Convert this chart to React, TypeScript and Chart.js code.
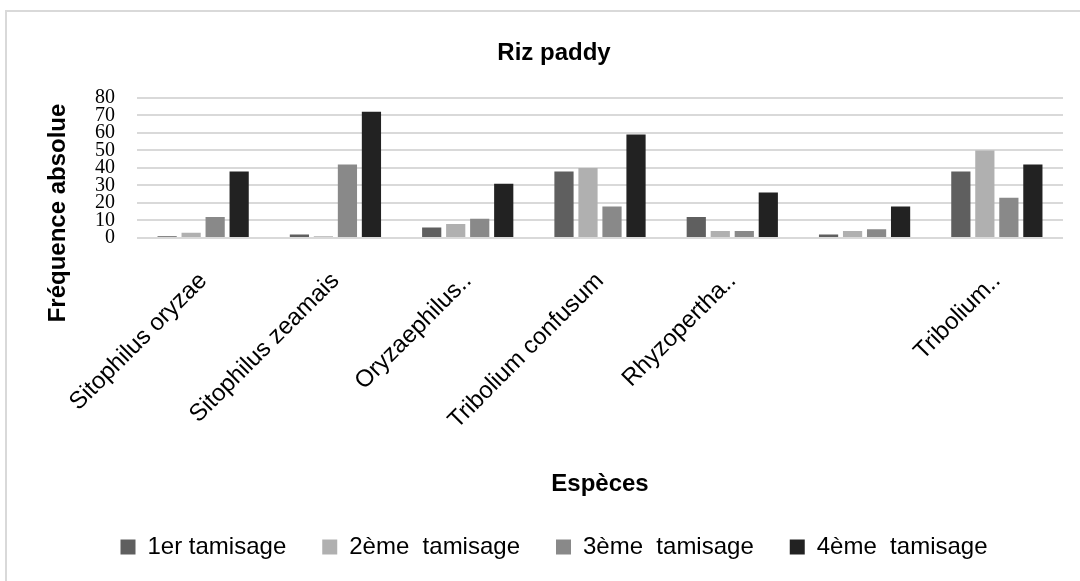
import React, { useEffect, useRef } from "react";
import { Chart, registerables } from "chart.js";

Chart.register(...registerables);

const chartTitle = "Riz paddy";
const yAxisTitle = "Fréquence absolue";
const xAxisTitle = "Espèces";

const categories = [
  "Sitophilus oryzae",
  "Sitophilus zeamais",
  "Oryzaephilus..",
  "Tribolium confusum",
  "Rhyzopertha..",
  "",
  "Tribolium..",
];

const seriesNames = ["1er tamisage", "2ème  tamisage", "3ème  tamisage", "4ème  tamisage"];
const tamisage1 = [1, 2, 6, 38, 12, 2, 38];
const tamisage2 = [3, 1, 8, 40, 4, 4, 50];
const tamisage3 = [12, 42, 11, 18, 4, 5, 23];
const tamisage4 = [38, 72, 31, 59, 26, 18, 42];
const seriesColors = ["#5f5f5f", "#b0b0b0", "#898989", "#222222"];

const yMin = 0;
const yMax = 80;
const yStep = 10;

const SANS = "'Liberation Sans', Arial, sans-serif";
const SERIF = "'Liberation Serif', 'Times New Roman', serif";

const yTitlePlugin = {
  id: "yTitlePlugin",
  afterDraw(chart: any) {
    const ctx = chart.ctx;
    ctx.save();
    ctx.translate(58, 213);
    ctx.rotate(-Math.PI / 2);
    ctx.font = `bold 24px ${SANS}`;
    ctx.fillStyle = "#000";
    ctx.textAlign = "center";
    ctx.textBaseline = "middle";
    ctx.fillText(yAxisTitle, 0, 0);
    ctx.restore();
  },
};

export default function App() {
  const canvasRef = useRef<HTMLCanvasElement | null>(null);

  useEffect(() => {
    if (!canvasRef.current) return;
    const values = [tamisage1, tamisage2, tamisage3, tamisage4];
    const chart = new Chart(canvasRef.current, {
      type: "bar",
      data: {
        labels: categories,
        datasets: values.map((v, i) => ({
          label: seriesNames[i],
          data: v,
          backgroundColor: seriesColors[i],
          borderWidth: 0,
          barPercentage: 0.8,
          categoryPercentage: 0.726,
        })),
      },
      options: {
        responsive: false,
        animation: false,
        layout: { padding: { left: 45, right: 17, top: 10, bottom: 12 } },
        plugins: {
          title: {
            display: true,
            text: chartTitle,
            color: "#000",
            font: { family: SANS, size: 24, weight: "bold" },
            padding: { top: 29, bottom: 30 },
          },
          legend: {
            display: true,
            position: "bottom",
            labels: {
              color: "#000",
              font: { family: SANS, size: 24 },
              boxWidth: 15,
              boxHeight: 15,
              padding: 36,
            },
          },
          tooltip: { enabled: false },
        },
        scales: {
          x: {
            grid: { display: false },
            border: { display: false },
            ticks: {
              color: "#000",
              font: { family: SANS, size: 24 },
              minRotation: 45,
              maxRotation: 45,
              autoSkip: false,
              padding: 21,
            },
            title: {
              display: true,
              text: xAxisTitle,
              color: "#000",
              font: { family: SANS, size: 24, weight: "bold" },
              padding: { top: 0, bottom: 0 },
            },
            afterFit(scale: any) {
              scale.height = 261;
            },
          },
          y: {
            min: yMin,
            max: yMax,
            border: { display: false },
            grid: { color: "#d9d9d9", lineWidth: 2, drawTicks: false },
            ticks: {
              stepSize: yStep,
              autoSkip: false,
              color: "#000",
              padding: 22,
              font: { family: SERIF, size: 20, lineHeight: 1 },
            },
            afterFit(scale: any) {
              scale.width = 92;
            },
          },
        },
      },
      plugins: [yTitlePlugin],
    });
    return () => chart.destroy();
  }, []);

  return (
    <div
      style={{
        position: "absolute",
        left: 0,
        top: 0,
        width: 1080,
        height: 581,
        overflow: "hidden",
        background: "#fff",
      }}
    >
      <div
        style={{
          position: "absolute",
          left: 5,
          top: 10,
          width: 1100,
          height: 620,
          border: "2px solid #d9d9d9",
        }}
      />
      <canvas
        ref={canvasRef}
        width={1080}
        height={581}
        style={{ position: "absolute", left: 0, top: 0, display: "block" }}
      />
    </div>
  );
}
